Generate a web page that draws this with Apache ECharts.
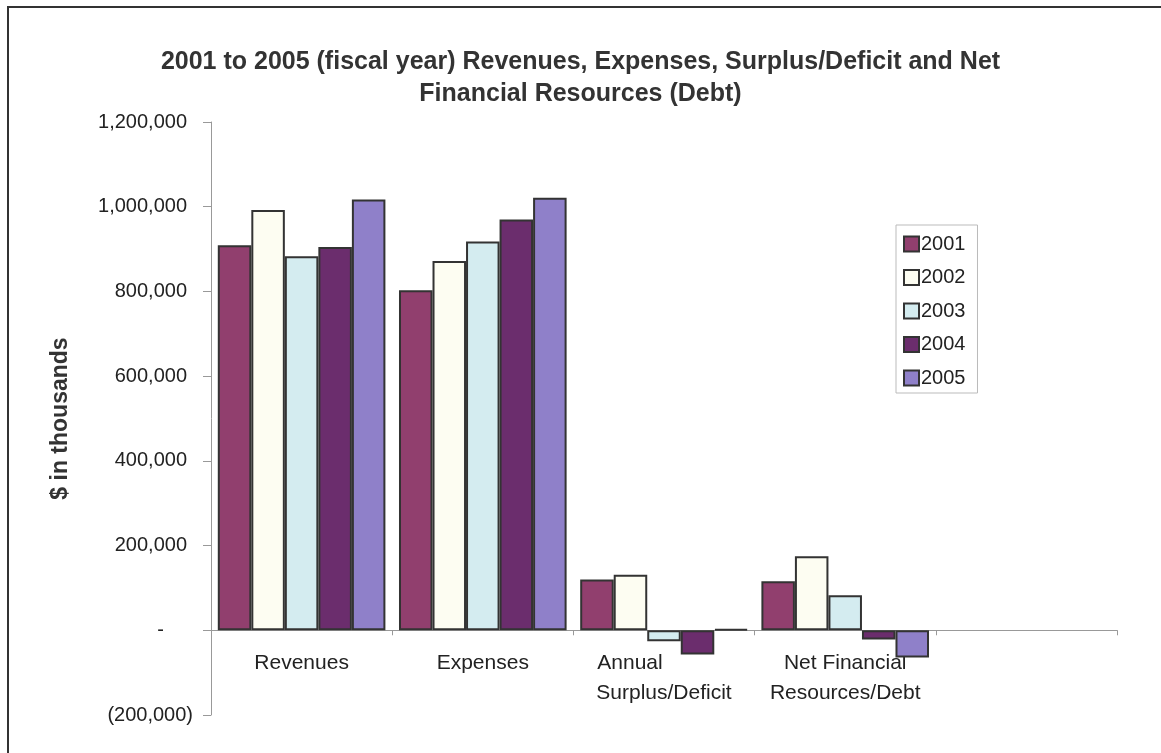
<!DOCTYPE html>
<html>
<head>
  <meta charset="utf-8">
  <script src="https://cdn.jsdelivr.net/npm/echarts@6.0.0/dist/echarts.min.js"></script>
  <style>
    body {
      margin: 0;
      padding: 0;
      background-color: white;
    }
    #main {
      width: 1161px;
      height: 753px;
    }
  </style>
  <title>Revenues, Expenses, Surplus/Deficit</title>
</head>
<body>
<div id="main"></div>
<script>
  // categories (the last slot is empty in the original chart)
  var categories = ['Revenues', 'Expenses', 'Annual\nSurplus/Deficit', 'Net Financial\nResources/Debt', ''];
  var years = ['2001', '2002', '2003', '2004', '2005'];

  // $ in thousands
  var fy2001 = [909000, 803000, 120000, 116000];
  var fy2002 = [992000, 872000, 131000, 175000];
  var fy2003 = [883000, 918000, -26000, 83000];
  var fy2004 = [905000, 970000, -57000, -22000];
  var fy2005 = [1017000, 1021000, 3000, -64000];

  var yTicks = [-200000, 0, 200000, 400000, 600000, 800000, 1000000, 1200000];

  var colors = ['#913f6e', '#fdfdf2', '#d4ecf0', '#6b2d6d', '#8f80c9'];
  var seriesData = [fy2001, fy2002, fy2003, fy2004, fy2005];

  function fmt(v) {
    return Math.abs(v).toString().replace(/\B(?=(\d{3})+(?!\d))/g, ',');
  }

  var myChart = echarts.init(document.getElementById('main'));

  var series = [];
  for (var i = 0; i < years.length; i++) {
    series.push({
      name: years[i],
      type: 'bar',
      data: seriesData[i],
      barGap: '0%',
      barCategoryGap: '7.5%',
      itemStyle: {
        color: colors[i],
        borderColor: '#333333',
        borderWidth: 2
      }
    });
  }

  myChart.setOption({
    animation: false,
    textStyle: {
      fontFamily: 'Liberation Sans, Arial, sans-serif'
    },
    graphic: [
      {
        type: 'rect',
        shape: { x: 8, y: 7, width: 1200, height: 800 },
        style: { fill: 'none', stroke: '#333333', lineWidth: 2 },
        silent: true
      }
    ],
    title: {
      text: '2001 to 2005 (fiscal year) Revenues, Expenses, Surplus/Deficit and Net\nFinancial Resources (Debt)',
      left: 'center',
      top: 41,
      textStyle: {
        fontSize: 25,
        fontWeight: 'bold',
        color: '#333333',
        lineHeight: 32
      }
    },
    legend: {
      orient: 'vertical',
      left: 896,
      top: 225,
      padding: [9, 12, 5, 7],
      icon: 'rect',
      itemWidth: 15,
      itemHeight: 15,
      itemGap: 13.5,
      borderColor: '#bbbbbb',
      borderWidth: 1,
      textStyle: {
        fontSize: 20,
        color: '#222222',
        padding: [0, 0, 0, -3]
      },
      data: years
    },
    grid: {
      left: 211,
      right: 44,
      top: 122,
      bottom: 38,
      outerBoundsMode: 'none',
      containLabel: false
    },
    xAxis: {
      type: 'category',
      data: categories,
      axisLine: { onZero: true, lineStyle: { color: '#999999', width: 1 } },
      axisTick: { show: true, length: 5, lineStyle: { color: '#999999' } },
      axisLabel: {
        fontSize: 21,
        color: '#222222',
        lineHeight: 30,
        // labels sit under the zero line, not under the grid bottom
        margin: -67,
        interval: 0,
        formatter: function (v) {
          // "Annual" sits left of centre in the original
          if (v.indexOf('Annual') === 0) {
            var parts = v.split('\n');
            return '{a|' + parts[0] + '}\n' + parts[1];
          }
          return v;
        },
        rich: {
          a: { fontSize: 21, color: '#222222', lineHeight: 30, padding: [0, 68, 0, 0] }
        }
      }
    },
    yAxis: {
      type: 'value',
      min: yTicks[0],
      max: yTicks[yTicks.length - 1],
      interval: 200000,
      name: '$ in thousands',
      nameLocation: 'middle',
      nameGap: 139,
      nameTextStyle: {
        fontSize: 23,
        fontWeight: 'bold',
        color: '#333333'
      },
      splitLine: { show: false },
      axisLine: { show: true, lineStyle: { color: '#999999', width: 1 } },
      axisTick: { show: true, length: 8, lineStyle: { color: '#999999' } },
      axisLabel: {
        fontSize: 20,
        color: '#222222',
        margin: 18,
        formatter: function (v) {
          if (v === 0) return '{z|-}';
          if (v < 0) return '(' + fmt(v) + ')';
          return '{p|' + fmt(v) + '}';
        },
        rich: {
          p: { fontSize: 20, color: '#222222', padding: [0, 6, 0, 0] },
          z: { fontSize: 20, color: '#222222', padding: [0, 29, 0, 0] }
        }
      }
    },
    series: series
  });
</script>
</body>
</html>
